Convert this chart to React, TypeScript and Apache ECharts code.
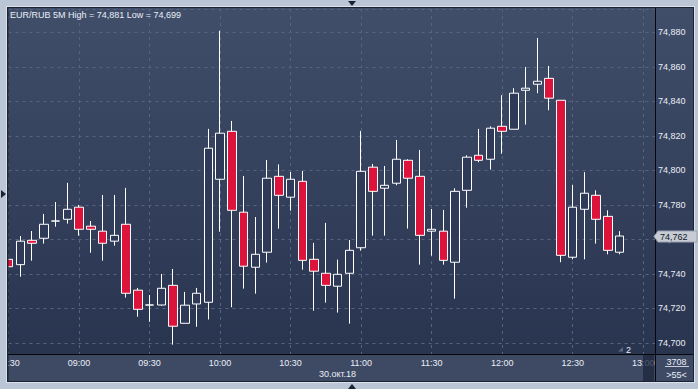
import React, { useEffect, useRef } from 'react';
import * as echarts from 'echarts';

const times = [
  '08:30', '08:35', '08:40', '08:45', '08:50', '08:55',
  '09:00', '09:05', '09:10', '09:15', '09:20', '09:25',
  '09:30', '09:35', '09:40', '09:45', '09:50', '09:55',
  '10:00', '10:05', '10:10', '10:15', '10:20', '10:25',
  '10:30', '10:35', '10:40', '10:45', '10:50', '10:55',
  '11:00', '11:05', '11:10', '11:15', '11:20', '11:25',
  '11:30', '11:35', '11:40', '11:45', '11:50', '11:55',
  '12:00', '12:05', '12:10', '12:15', '12:20', '12:25',
  '12:30', '12:35', '12:40', '12:45', '12:50', '12:55',
  '13:00', '13:05',
];

const opens = [
  74.7485, 74.7454, 74.7595, 74.7607, 74.7707, 74.7717, 74.7787, 74.7677, 74.7648, 74.7590,
  74.7688, 74.7306, 74.7220, 74.7220, 74.7334, 74.7114, 74.7226, 74.7236, 74.7949, 74.8227,
  74.7758, 74.7439, 74.7526, 74.7966, 74.7845, 74.7937, 74.7485, 74.7404, 74.7329, 74.7404,
  74.7552, 74.8019, 74.7897, 74.7926, 74.8059, 74.7966, 74.7648, 74.7648, 74.7468, 74.7885,
  74.8088, 74.8065, 74.8256, 74.8239, 74.8465, 74.8500, 74.8534, 74.8407, 74.7497, 74.7775,
  74.7856, 74.7734, 74.7526,
];

const closes = [
  74.7442, 74.7590, 74.7578, 74.7688, 74.7707, 74.7775, 74.7659, 74.7659, 74.7578, 74.7624,
  74.7288, 74.7195, 74.7220, 74.7317, 74.7097, 74.7219, 74.7288, 74.8129, 74.8216, 74.7769,
  74.7445, 74.7514, 74.7955, 74.7856, 74.7949, 74.7479, 74.7416, 74.7334, 74.7398, 74.7537,
  74.7995, 74.7879, 74.7914, 74.8065, 74.7955, 74.7624, 74.7659, 74.7479, 74.7879, 74.8077,
  74.8059, 74.8245, 74.8227, 74.8448, 74.8477, 74.8517, 74.8419, 74.7508, 74.7787, 74.7868,
  74.7717, 74.7537, 74.7620,
];

const lows = [
  74.7442, 74.7384, 74.7477, 74.7576, 74.7674, 74.7692, 74.7622, 74.7523, 74.7477, 74.7564,
  74.7263, 74.7152, 74.7123, 74.7216, 74.6990, 74.7114, 74.7094, 74.7136, 74.7645, 74.7207,
  74.7315, 74.7286, 74.7466, 74.7663, 74.7767, 74.7425, 74.7187, 74.7234, 74.7176, 74.7112,
  74.7535, 74.7622, 74.7622, 74.7914, 74.7663, 74.7454, 74.7506, 74.7454, 74.7257, 74.7784,
  74.8048, 74.8005, 74.8097, 74.8239, 74.8266, 74.8448, 74.8349, 74.7468, 74.7485, 74.7485,
  74.7576, 74.7514, 74.7514,
];

const highs = [
  74.7485, 74.7620, 74.7649, 74.7748, 74.7817, 74.7928, 74.7800, 74.7707, 74.7858, 74.7858,
  74.7899, 74.7319, 74.7278, 74.7400, 74.7429, 74.7296, 74.7319, 74.8241, 74.8810, 74.8287,
  74.7968, 74.7730, 74.8061, 74.8035, 74.7991, 74.7997, 74.7580, 74.7696, 74.7483, 74.7597,
  74.8229, 74.8038, 74.8026, 74.8177, 74.8065, 74.8119, 74.7777, 74.7771, 74.7897, 74.8088,
  74.8241, 74.8256, 74.8436, 74.8477, 74.8600, 74.8768, 74.8606, 74.8407, 74.7916, 74.7990,
  74.7885, 74.7769, 74.7648,
];

const titleText = 'EUR/RUB 5M High = 74,881 Low = 74,699';
const dateText = '30.окт.18';
const lastPrice = '74,762';
const volText = '3708';
const spreadText = '>55<';
const markerText = '2';

const FONT = '"Liberation Sans", Arial, sans-serif';
const TXT = '#e9eef6';
const GRIDC = '#58647f';
const FRAME = '#bac5d5';

export default function App() {
  const ref = useRef<HTMLDivElement>(null);
  useEffect(() => {
    if (!ref.current) return;
    const chart = echarts.init(ref.current, undefined, { renderer: 'svg' });
    const data = opens.map((o, i) => [o, closes[i], lows[i], highs[i]]);
    const plotGrad = new echarts.graphic.LinearGradient(0, 0, 0, 1, [
      { offset: 0, color: '#404e6a' },
      { offset: 1, color: '#29344f' },
    ]);
    const rightGrad = new echarts.graphic.LinearGradient(0, 0, 0, 1, [
      { offset: 0, color: '#404e6a' },
      { offset: 1, color: '#29344f' },
    ]);
    const showEvery6 = (i: number) => i % 6 === 0;
    chart.setOption({
      animation: false,
      backgroundColor: FRAME,
      grid: { left: 8.5, right: 43, top: 9, bottom: 35, containLabel: false, outerBoundsMode: 'none' },
      xAxis: {
        type: 'category',
        data: times,
        boundaryGap: false,
        axisLine: { show: false },
        axisTick: { show: false },
        axisLabel: {
          interval: showEvery6,
          color: TXT,
          fontSize: 9,
          fontFamily: FONT,
          margin: 4,
          alignMinLabel: 'center',
          alignMaxLabel: 'center',
        },
        splitLine: {
          show: true,
          interval: showEvery6,
          lineStyle: { color: GRIDC, type: [3, 4], width: 1 },
        },
      },
      yAxis: {
        type: 'value',
        position: 'right',
        min: 74.6936,
        max: 74.8936,
        splitNumber: 10,
        axisLine: { show: false },
        axisTick: { show: false },
        axisLabel: {
          showMinLabel: false,
          showMaxLabel: false,
          color: TXT,
          fontSize: 9,
          fontFamily: FONT,
          margin: 3,
          formatter: (v: number) => v.toFixed(3).replace('.', ','),
        },
        splitLine: {
          show: true,
          lineStyle: { color: GRIDC, type: [3, 4], width: 1 },
        },
      },
      series: [
        {
          type: 'candlestick',
          data,
          barWidth: 9,
          clip: true,
          itemStyle: {
            color: '#2e3a57',
            color0: '#dc143c',
            borderColor: '#ffffff',
            borderColor0: '#ffffff',
            borderWidth: 1,
          },
        },
      ],
      graphic: [
        { type: 'rect', z: -10, shape: { x: 6, y: 6, width: 689, height: 377 }, style: { fill: '#dbe2ec' } },
        { type: 'rect', z: -9, shape: { x: 7, y: 7, width: 687, height: 375 }, style: { fill: '#1b2232' } },
        { type: 'rect', z: -8, shape: { x: 8, y: 8, width: 647, height: 346 }, style: { fill: plotGrad } },
        { type: 'rect', z: -8, shape: { x: 656, y: 8, width: 37, height: 346 }, style: { fill: rightGrad } },
        { type: 'rect', z: -8, shape: { x: 8, y: 355, width: 647, height: 26 }, style: { fill: '#3e4a64' } },
        { type: 'rect', z: -8, shape: { x: 656, y: 355, width: 37, height: 26 }, style: { fill: '#3e4a64' } },
        // left frame overlay (hides the clipped half of the first candle and label)
        { type: 'rect', z: 100, shape: { x: 0, y: 0, width: 6, height: 389 }, style: { fill: FRAME } },
        { type: 'rect', z: 100, shape: { x: 6, y: 6, width: 1, height: 377 }, style: { fill: '#dbe2ec' } },
        { type: 'rect', z: 100, shape: { x: 7, y: 7, width: 1.5, height: 375 }, style: { fill: '#1b2232' } },
        { type: 'rect', z: 100, shape: { x: 643, y: 355, width: 11, height: 26 }, style: { fill: 'rgba(30,40,62,0.78)' } },
        { type: 'line', z: 101, shape: { x1: 655.5, y1: 8, x2: 655.5, y2: 381 }, style: { stroke: '#05070c', lineWidth: 1 } },
        { type: 'line', z: 101, shape: { x1: 8, y1: 354.5, x2: 693, y2: 354.5 }, style: { stroke: '#05070c', lineWidth: 1 } },
        {
          type: 'text', z: 101, x: 10, y: 15,
          style: { text: titleText, fill: TXT, fontSize: 9, fontFamily: FONT, verticalAlign: 'middle', align: 'left' },
        },
        {
          type: 'text', z: 101, x: 337.5, y: 373.5,
          style: { text: dateText, fill: TXT, fontSize: 9, fontFamily: FONT, verticalAlign: 'middle', align: 'center' },
        },
        {
          type: 'text', z: 101, x: 676.5, y: 361.5,
          style: { text: volText, fill: TXT, fontSize: 9, fontFamily: FONT, verticalAlign: 'middle', align: 'center' },
        },
        { type: 'line', z: 101, shape: { x1: 665, y1: 366.5, x2: 689, y2: 366.5 }, style: { stroke: '#c9d0dc', lineWidth: 1 } },
        {
          type: 'text', z: 101, x: 676.5, y: 374.5,
          style: { text: spreadText, fill: TXT, fontSize: 9, fontFamily: FONT, verticalAlign: 'middle', align: 'center' },
        },
        { type: 'polygon', z: 101, shape: { points: [[618, 351.5], [623, 347], [623, 351.5]] }, style: { fill: '#5d6883' } },
        {
          type: 'text', z: 101, x: 628.5, y: 349.5,
          style: { text: markerText, fill: TXT, fontSize: 9, fontFamily: FONT, verticalAlign: 'middle', align: 'center' },
        },
        {
          type: 'polygon', z: 102,
          shape: { points: [[654, 236.5], [658, 231], [697, 231], [697, 242], [658, 242]] },
          style: { fill: '#c6cbd4', stroke: '#9aa3b2', lineWidth: 1 },
        },
        {
          type: 'text', z: 103, x: 660, y: 236.5,
          style: { text: lastPrice, fill: '#111827', fontSize: 9, fontFamily: FONT, verticalAlign: 'middle', align: 'left' },
        },
        { type: 'polygon', z: 101, shape: { points: [[348, 1], [356, 1], [352, 6]] }, style: { fill: '#1b2232' } },
        { type: 'polygon', z: 101, shape: { points: [[1, 190], [6, 194], [1, 198]] }, style: { fill: '#1b2232' } },
        { type: 'polygon', z: 101, shape: { points: [[348, 389], [356, 389], [352, 384]] }, style: { fill: '#1b2232' } },
      ],
    });
    return () => chart.dispose();
  }, []);
  return (
    <div
      ref={ref}
      style={{ position: 'fixed', left: 0, top: 0, width: 698, height: 389 }}
    />
  );
}
